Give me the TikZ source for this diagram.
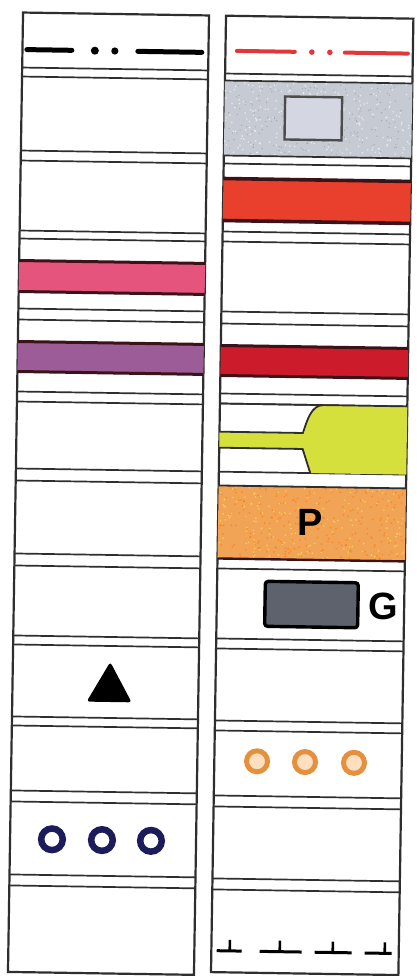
\documentclass[tikz,border=0pt]{standalone}
\usepackage{fontspec}
\setmainfont{Liberation Sans}
\definecolor{rulec}{HTML}{2E2E2E}
\definecolor{bandedge}{HTML}{3A1218}
\definecolor{redline}{HTML}{E0383A}
\definecolor{grayhatch}{HTML}{C6CAD2}
\definecolor{innersq}{HTML}{D4D7E2}
\definecolor{redband}{HTML}{E8402C}
\definecolor{pinkband}{HTML}{E4547C}
\definecolor{purpleband}{HTML}{9C5C98}
\definecolor{darkred}{HTML}{CC1C2C}
\definecolor{limefill}{HTML}{D6E03C}
\definecolor{orangeband}{HTML}{F2A456}
\definecolor{gboxfill}{HTML}{5E626C}
\definecolor{navy}{HTML}{1C1C5A}
\definecolor{orangering}{HTML}{E4903C}
\begin{document}
\begin{tikzpicture}[x=1pt,y=-1pt,
  rule/.style={draw=rulec, line width=1.7pt},
  coledge/.style={draw=rulec, line width=2.2pt},
  bandline/.style={draw=bandedge, line width=3pt},
  thickdash/.style={line width=5pt, line cap=round},
  letter/.style={font=\fontsize{38}{38}\selectfont\bfseries, inner sep=0pt}]
\useasboundingbox (0,0) rectangle (416,976);
\fill[white] (0,0) rectangle (416,976);
\begin{scope}[rotate around={-0.9:(208,488)}]
% ---------- left column ----------
\draw[coledge] (15.6,15.5) rectangle (201.6,975);
% dash-dot black
\draw[thickdash, black] (20,52.5) -- (65,52.5);
\fill[black] (88,52.5) circle (4);
\fill[black] (108,52.5) circle (3.6);
\draw[thickdash, black] (131,52.5) -- (195,52.5);
% double rules
\foreach \y in {70.5,79.5,153.5,163.5,233.5,241.5,311.5,322.5,394.5,404.5,471.5,483.5,556.5,568.5,638.5,647.5,719.5,728.5,793.5,804.5,877.5,888.5}
  \draw[rule] (15.6,\y) -- (201.6,\y);
% pink band
\fill[pinkband] (15.6,263.5) rectangle (201.6,294.5);
\draw[bandline] (15.6,263.5) -- (201.6,263.5);
\draw[bandline] (15.6,294.5) -- (201.6,294.5);
% purple band
\fill[purpleband] (15.6,344.5) rectangle (201.6,374.5);
\draw[bandline] (15.6,344.5) -- (201.6,344.5);
\draw[bandline] (15.6,374.5) -- (201.6,374.5);
% triangle
\fill[black, rounded corners=3pt] (113,663.5) -- (135,703.5) -- (90,703.5) -- cycle;
% blue rings
\foreach \x in {57.5,107.5,156.5}
  \draw[navy, line width=6.5pt] (\x,841.7) circle (10.8);
% ---------- right column ----------
\draw[coledge] (218.6,15.5) rectangle (406,972);
% red dash-dot
\draw[thickdash, redline, line width=4pt] (230,50.5) -- (288,50.5);
\fill[redline] (305,50.5) circle (2.8);
\fill[redline] (323,50.5) circle (2.8);
\draw[thickdash, redline, line width=4pt] (338,50.5) -- (401,50.5);
% gray box (speckled)
\fill[grayhatch] (218.6,80.3) rectangle (406,155.3);
\pgfmathsetseed{7}
\foreach \i in {1,...,260}
  \fill[white, opacity=0.55] ({219+rnd*186},{81+rnd*73}) circle (0.9);
\foreach \i in {1,...,200}
  \fill[black!45, opacity=0.5] ({219+rnd*186},{81+rnd*73}) circle (0.7);
\draw[draw=black!70, fill=innersq, line width=2.4pt] (279,95.3) rectangle (336,138.3);
\foreach \y in {73.3,80.3,155.3,163.3}
  \draw[rule] (218.6,\y) -- (406,\y);
% red band
\fill[redband] (218.6,178.3) rectangle (406,220.3);
\draw[bandline, line width=3.6pt] (218.6,178.3) -- (406,178.3);
\draw[bandline, line width=3.6pt] (218.6,220.3) -- (406,220.3);
\foreach \y in {231.3,241.3,311.3,323.3,393.3,403.3,471.5}
  \draw[rule] (218.6,\y) -- (406,\y);
% dark red band
\fill[darkred] (218.6,345.3) rectangle (406,375.3);
\draw[bandline] (218.6,345.3) -- (406,345.3);
\draw[bandline] (218.6,375.3) -- (406,375.3);
% lime flask shape
\fill[limefill] (218.6,431.5) -- (302,431.5) .. controls (306,419) and (310,403.3) .. (322,403.3)
  -- (406,403.3) -- (406,471.5) -- (310,471.5) -- (302,447.5) -- (218.6,447.5) -- cycle;
\draw[rule, line width=1.8pt] (218.6,431.5) -- (302,431.5) .. controls (306,419) and (310,403.3) .. (322,403.3);
\draw[rule, line width=1.8pt] (218.6,447.5) -- (302,447.5) -- (310,471.5);
\draw[rule] (218.6,403.3) -- (406,403.3);
% orange band (speckled)
\fill[orangeband] (218.6,485.3) rectangle (406,558.3);
\foreach \i in {1,...,220}
  \fill[orange!90!red, opacity=0.45] ({219+rnd*186},{486+rnd*71}) circle (1.1);
\foreach \i in {1,...,160}
  \fill[yellow!60!white, opacity=0.5] ({219+rnd*186},{486+rnd*71}) circle (0.9);
\draw[rule, line width=1.8pt] (218.6,485.3) -- (406,485.3);
\draw[bandline, line width=2.4pt] (218.6,558.3) -- (406,558.3);
\node[letter] (P) at (310.5,520.4) {P};
\draw[rule] (218.6,568.3) -- (406,568.3);
% G box
\draw[fill=gboxfill, draw=black, line width=3.4pt, rounded corners=3pt] (266.8,580.4) rectangle (359.8,625.4);
\node[letter] (G) at (385,603.3) {G};
\foreach \y in {638.3,648.3,720.3,730.3,795.3,806.3,878.3,889.3}
  \draw[rule] (218.6,\y) -- (406,\y);
% orange rings
\foreach \x in {261.3,309.3,358.3} {
  \fill[orange!25] (\x,760.5) circle (8);
  \draw[orangering, line width=5pt] (\x,760.5) circle (10.5);
}
% T-dash line
\foreach \a/\b/\t in {224/249/237, 267/309/287, 322/359/340, 372/399/392} {
  \draw[black, line width=3pt] (\a,950.5) -- (\b,950.5);
  \draw[black, line width=2.6pt] (\t,950.5) -- (\t,939.5);
}
\end{scope}
\end{tikzpicture}
\end{document}
